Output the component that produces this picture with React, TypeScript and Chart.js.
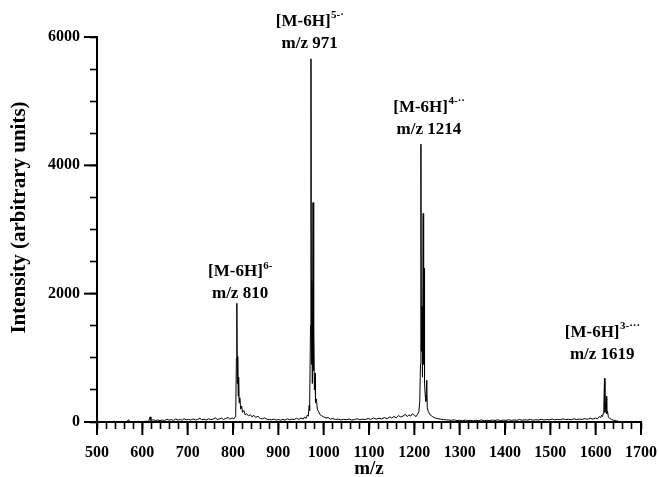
import React, { useEffect, useRef } from "react";
import { Chart, registerables } from "chart.js";

Chart.register(...registerables);

const mzValues: number[] = [
  500, 506, 512, 518, 524, 530, 536, 542, 548, 554, 560, 566, 570, 572, 578, 584, 590, 596, 602, 608, 614,
  617, 619, 624, 629, 634, 639, 644, 649, 654, 659, 664, 669, 674, 679, 684, 688, 692, 697, 702, 707, 712,
  717, 722, 727, 731, 736, 741, 746, 751, 756, 761, 765, 770, 775, 779, 784, 789, 793, 798, 802, 805,
  806, 807.5, 808.5, 809.5, 810.5, 811.5, 812.5, 813.5, 815, 817, 819, 821, 824, 827, 830, 834, 838, 842,
  846, 850, 855, 860, 865, 870, 875, 880, 885, 890, 895, 900, 905, 910, 915, 920, 925, 930, 935, 940, 945,
  950, 955, 958, 961, 964, 966, 968, 969, 971, 972, 973, 974, 975, 976.5, 977.5, 978.5, 979.5, 981, 982,
  984, 986, 989, 992, 996, 1000, 1005, 1010, 1015, 1020, 1026, 1032, 1038, 1044, 1050, 1056, 1062, 1068,
  1074, 1080, 1086, 1092, 1098, 1104, 1110, 1116, 1122, 1128, 1134, 1140, 1146, 1150, 1155, 1160, 1165,
  1170, 1175, 1180, 1184, 1188, 1192, 1196, 1200, 1204, 1207, 1210, 1212, 1213.5, 1214.5, 1215.5, 1217,
  1218, 1219.5, 1220.5, 1221.5, 1222.5, 1224, 1225.5, 1227.5, 1228.5, 1231, 1235, 1240, 1246, 1252, 1258,
  1264, 1270, 1276, 1282, 1288, 1294, 1300, 1306, 1312, 1318, 1324, 1330, 1336, 1342, 1348, 1354, 1360,
  1366, 1372, 1378, 1384, 1390, 1396, 1402, 1408, 1414, 1420, 1426, 1432, 1438, 1444, 1450, 1456, 1462,
  1468, 1474, 1480, 1486, 1492, 1498, 1504, 1510, 1516, 1522, 1528, 1534, 1540, 1546, 1552, 1558, 1564,
  1570, 1576, 1582, 1588, 1594, 1600, 1604, 1608, 1611, 1613, 1615, 1617, 1618, 1619.5, 1620.5, 1621.5,
  1622.5, 1623.5, 1624.5, 1626, 1628, 1631, 1635, 1640, 1645, 1650,
];

// intensity (arbitrary units) at each m/z above
const intensityValues: number[] = [
  4, 2, 6, 3, 8, 5, 10, 6, 3, 8, 5, 9, 35, 6, 8, 5, 10, 6, 8, 12, 9,
  80, 25, 35, 22, 32, 20, 30, 24, 42, 28, 38, 25, 48, 30, 40, 28, 52, 34, 42, 30, 48,
  32, 40, 58, 35, 44, 30, 50, 36, 45, 65, 40, 48, 60, 38, 55, 70, 45, 62, 50, 80,
  120, 1000, 1850, 600, 1020, 400, 700, 300, 380, 200, 250, 150, 180, 110, 130, 95, 115, 80,
  105, 70, 90, 55, 50, 65, 42, 38, 34, 45, 30, 38, 28, 42, 30, 50, 34, 46, 38, 58, 40,
  62, 45, 80, 55, 110, 90, 260, 180, 1500, 5660, 900, 2200, 600, 3420, 800, 1400, 500, 760, 300,
  360, 200, 160, 115, 95, 80, 62, 70, 45, 55, 38, 46, 32, 42, 35, 46, 30, 38,
  50, 34, 46, 38, 54, 40, 62, 45, 58, 48, 68, 52, 80, 60, 88, 64, 100,
  78, 92, 120, 85, 110, 92, 130, 100, 85, 120, 160, 320, 900, 4330, 1100, 1800,
  700, 3250, 900, 2400, 600, 420, 320, 650, 220, 160, 110, 85, 62, 52, 45,
  38, 34, 30, 26, 34, 22, 28, 20, 30, 22, 26, 18, 28, 22, 32, 20, 26,
  22, 30, 24, 34, 22, 30, 26, 36, 24, 32, 26, 38, 28, 34, 30, 40, 28,
  36, 30, 42, 30, 38, 34, 46, 34, 42, 36, 48, 38, 44, 34, 50, 38, 46,
  40, 52, 42, 58, 46, 62, 50, 85, 70, 105, 85, 140, 240, 680, 150, 300,
  200, 400, 130, 170, 80, 55, 40, 25, 18, 12,
];

const xMin = 500;
const xMax = 1700;
const xMajorStep = 100;
const xMinorStep = 20;
const yMin = 0;
const yMax = 6000;
const yMajorStep = 2000;
const yMinorStep = 500;

const xTitle = "m/z";
const yTitle = "Intensity (arbitrary units)";

// peak annotations
const annotationMz: number[] = [815.6, 969, 1232, 1614.5];
const annotationIntensity: number[] = [2000, 5900, 4560, 1050];
const annotationIon: string[] = ["[M-6H]", "[M-6H]", "[M-6H]", "[M-6H]"];
const annotationCharge: string[] = ["6-", "5-·", "4-··", "3-···"];
const annotationLabel: string[] = ["m/z 810", "m/z 971", "m/z 1214", "m/z 1619"];

const FONT = '"Liberation Serif", "Times New Roman", serif';
const MINOR_LEN = 7;
const MAJOR_LEN = 13;

const overlayPlugin = {
  id: "overlay",
  afterDraw(chart: any) {
    const ctx: CanvasRenderingContext2D = chart.ctx;
    const xs = chart.scales.x;
    const ys = chart.scales.y;
    const area = chart.chartArea;
    ctx.save();
    ctx.strokeStyle = "#000";
    ctx.lineWidth = 2;
    // longer major tick marks
    for (let v = xMin; v <= xMax; v += xMajorStep) {
      const px = xs.getPixelForValue(v);
      ctx.beginPath();
      ctx.moveTo(px, area.bottom);
      ctx.lineTo(px, area.bottom + MAJOR_LEN);
      ctx.stroke();
    }
    for (let v = yMin; v <= yMax; v += yMajorStep) {
      const py = ys.getPixelForValue(v);
      ctx.beginPath();
      ctx.moveTo(area.left, py);
      ctx.lineTo(area.left - MAJOR_LEN, py);
      ctx.stroke();
    }
    ctx.fillStyle = "#000";
    // x-axis title
    ctx.font = `bold 19px ${FONT}`;
    ctx.textAlign = "center";
    ctx.textBaseline = "middle";
    ctx.fillText(xTitle, (area.left + area.right) / 2, area.bottom + 47);
    // y-axis title (sits slightly above the plot's vertical centre, as in the source)
    ctx.save();
    ctx.translate(20, (area.top + area.bottom) / 2 - 12);
    ctx.rotate(-Math.PI / 2);
    ctx.font = `bold 21px ${FONT}`;
    ctx.textAlign = "center";
    ctx.textBaseline = "middle";
    ctx.fillText(yTitle, 0, 0);
    ctx.restore();
    // annotations
    ctx.textBaseline = "middle";
    for (let i = 0; i < annotationMz.length; i++) {
      const cx = xs.getPixelForValue(annotationMz[i]);
      const cy = ys.getPixelForValue(annotationIntensity[i]);
      ctx.font = `bold 17px ${FONT}`;
      ctx.textAlign = "center";
      ctx.fillText(annotationLabel[i], cx, cy);
      const mainW = ctx.measureText(annotationIon[i]).width;
      ctx.font = `bold 11px ${FONT}`;
      const supW = ctx.measureText(annotationCharge[i]).width;
      const total = mainW + supW;
      const startX = cx - total / 2;
      const y1 = cy - 22;
      ctx.textAlign = "left";
      ctx.font = `bold 17px ${FONT}`;
      ctx.fillText(annotationIon[i], startX, y1);
      ctx.font = `bold 11px ${FONT}`;
      ctx.fillText(annotationCharge[i], startX + mainW + 0.5, y1 - 6);
    }
    ctx.restore();
  },
};

export default function App() {
  const canvasRef = useRef<HTMLCanvasElement | null>(null);

  useEffect(() => {
    if (!canvasRef.current) return;
    const points = mzValues.map((mz, i) => ({ x: mz, y: intensityValues[i] }));
    const chart = new Chart(canvasRef.current, {
      type: "line",
      data: {
        datasets: [
          {
            data: points,
            borderColor: "#000",
            borderWidth: 1,
            pointRadius: 0,
            tension: 0,
            fill: false,
          },
        ],
      },
      options: {
        animation: false,
        responsive: true,
        maintainAspectRatio: false,
        layout: { padding: { top: 37, right: 17, left: 0, bottom: 0 } },
        plugins: {
          legend: { display: false },
          tooltip: { enabled: false },
        },
        scales: {
          x: {
            type: "linear",
            min: xMin,
            max: xMax,
            afterFit: (scale: any) => {
              scale.height = 55;
              scale.paddingLeft = 0;
              scale.paddingRight = 0;
            },
            grid: {
              display: true,
              drawOnChartArea: false,
              drawTicks: true,
              tickLength: MINOR_LEN,
              tickColor: "#000",
              tickWidth: 1.6,
            },
            border: { display: true, color: "#000", width: 2 },
            ticks: {
              stepSize: xMinorStep,
              autoSkip: false,
              maxRotation: 0,
              padding: 14,
              color: "#000",
              font: { family: FONT, size: 16, weight: "bold" },
              callback: (v: any) => (Number(v) % xMajorStep === 0 ? String(v) : ""),
            },
            title: { display: false },
          },
          y: {
            type: "linear",
            min: yMin,
            max: yMax,
            afterFit: (scale: any) => {
              scale.width = 97;
              scale.paddingTop = 0;
              scale.paddingBottom = 0;
            },
            grid: {
              display: true,
              drawOnChartArea: false,
              drawTicks: true,
              tickLength: MINOR_LEN,
              tickColor: "#000",
              tickWidth: 1.6,
            },
            border: { display: true, color: "#000", width: 2 },
            ticks: {
              stepSize: yMinorStep,
              autoSkip: false,
              padding: 10,
              color: "#000",
              font: { family: FONT, size: 16, weight: "bold" },
              callback: (v: any) => (Number(v) % yMajorStep === 0 ? String(v) : ""),
            },
            title: { display: false },
          },
        },
      },
      plugins: [overlayPlugin],
    });
    return () => chart.destroy();
  }, []);

  return (
    <div style={{ position: "absolute", left: 0, top: 0, width: 658, height: 477 }}>
      <canvas ref={canvasRef} />
    </div>
  );
}
